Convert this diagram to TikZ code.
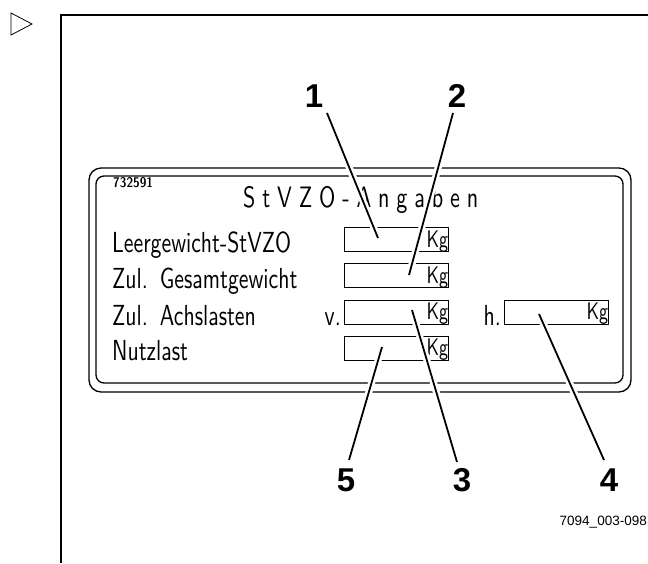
\documentclass[tikz,border=0pt]{standalone}
\usepackage{fontspec}
\newfontfamily\platefont{lmsans10-regular.otf}[FakeStretch=0.75]
\newfontfamily\codefont{lmsansdemicond10-regular.otf}
\newfontfamily\numfont{Liberation Sans}
\usetikzlibrary{calc}
\begin{document}
\begin{tikzpicture}[x=1pt,y=-1pt,
  frameline/.style={line width=2.4pt},
  plateline/.style={line width=1.3pt},
  valbox/.style={draw, line width=1.2pt, minimum width=104pt, minimum height=24pt, inner sep=0pt, anchor=north west},
  lbl/.style={inner sep=0pt, anchor=base west, font=\platefont\fontsize{29}{34}\selectfont},
  kg/.style={inner sep=0pt, anchor=base east, font=\platefont\fontsize{24}{28}\selectfont},
  num/.style={inner sep=0pt, font=\numfont\bfseries\fontsize{33}{38}\selectfont},
  leader/.style={line width=1.8pt, preaction={draw=white, line width=7pt}}]
\useasboundingbox (0,0) rectangle (648,563);
% pointer triangle and frame
\draw[line width=0.8pt] (11,13) -- (32,24) -- (11,35) -- cycle;
\draw[frameline] (648,15) -- (61,15) -- (61,563);
% plate
\draw[plateline, rounded corners=12pt] (89,168) rectangle (631,392);
\draw[plateline, rounded corners=8pt] (96,176) rectangle (623,383);
\node[inner sep=0pt, anchor=base west, font=\codefont\fontsize{14}{16}\selectfont] (code) at (113,187) {732591};
\node[inner sep=0pt, anchor=base west, font=\platefont\fontsize{29.5}{34}\selectfont] (title) at (243,207)
  {\makebox[235pt][s]{S\hfill t\hfill V\hfill Z\hfill O\hfill -\hfill A\hfill n\hfill g\hfill a\hfill b\hfill e\hfill n}};
% labels
\node[lbl] (l1) at (112,252) {Leergewicht-StVZO};
\node[lbl] (l2) at (112,288) {Zul.\hspace{12pt}Gesamtgewicht};
\node[lbl] (l3) at (112,325) {Zul.\hspace{12pt}Achslasten};
\node[lbl] (l4) at (112,360) {Nutzlast};
\node[lbl, anchor=base east] (lv) at (341,325) {v.};
\node[lbl, anchor=base east] (lh) at (501,325) {h.};
% value boxes
\node[valbox] (b1) at (344,227) {};
\node[valbox] (b2) at (344,263) {};
\node[valbox] (b3) at (344,299.5) {};
\node[valbox] (b4) at (344,335.5) {};
\node[valbox] (b5) at (504,299.5) {};
\foreach \b in {b1,b2,b3,b4,b5}{
  \node[kg] (kg\b) at ($(\b.south east)+(-1,-5)$) {Kg};
}
% numbers
\node[num] (n1) at (314,96) {1};
\node[num] (n2) at (457,96) {2};
\node[num] (n3) at (462,480) {3};
\node[num] (n4) at (609,480) {4};
\node[num] (n5) at (346,480) {5};
% leader end points
\coordinate (s1) at (327,113); \coordinate (e1) at (378,238);
\coordinate (s2) at (453,113); \coordinate (e2) at (409,275);
\coordinate (s3) at (457,462); \coordinate (e3) at (412,310);
\coordinate (s4) at (604,460); \coordinate (e4) at (539,314);
\coordinate (s5) at (349,460); \coordinate (e5) at (382,347);
\foreach \i in {1,...,5}{
  \draw[leader] (s\i) -- (e\i);
}
% drawing number
\node[inner sep=0pt, anchor=base east, font=\numfont\fontsize{13.5}{15}\selectfont] (ref) at (647,525) {7094\_003-098};
\end{tikzpicture}
\end{document}
